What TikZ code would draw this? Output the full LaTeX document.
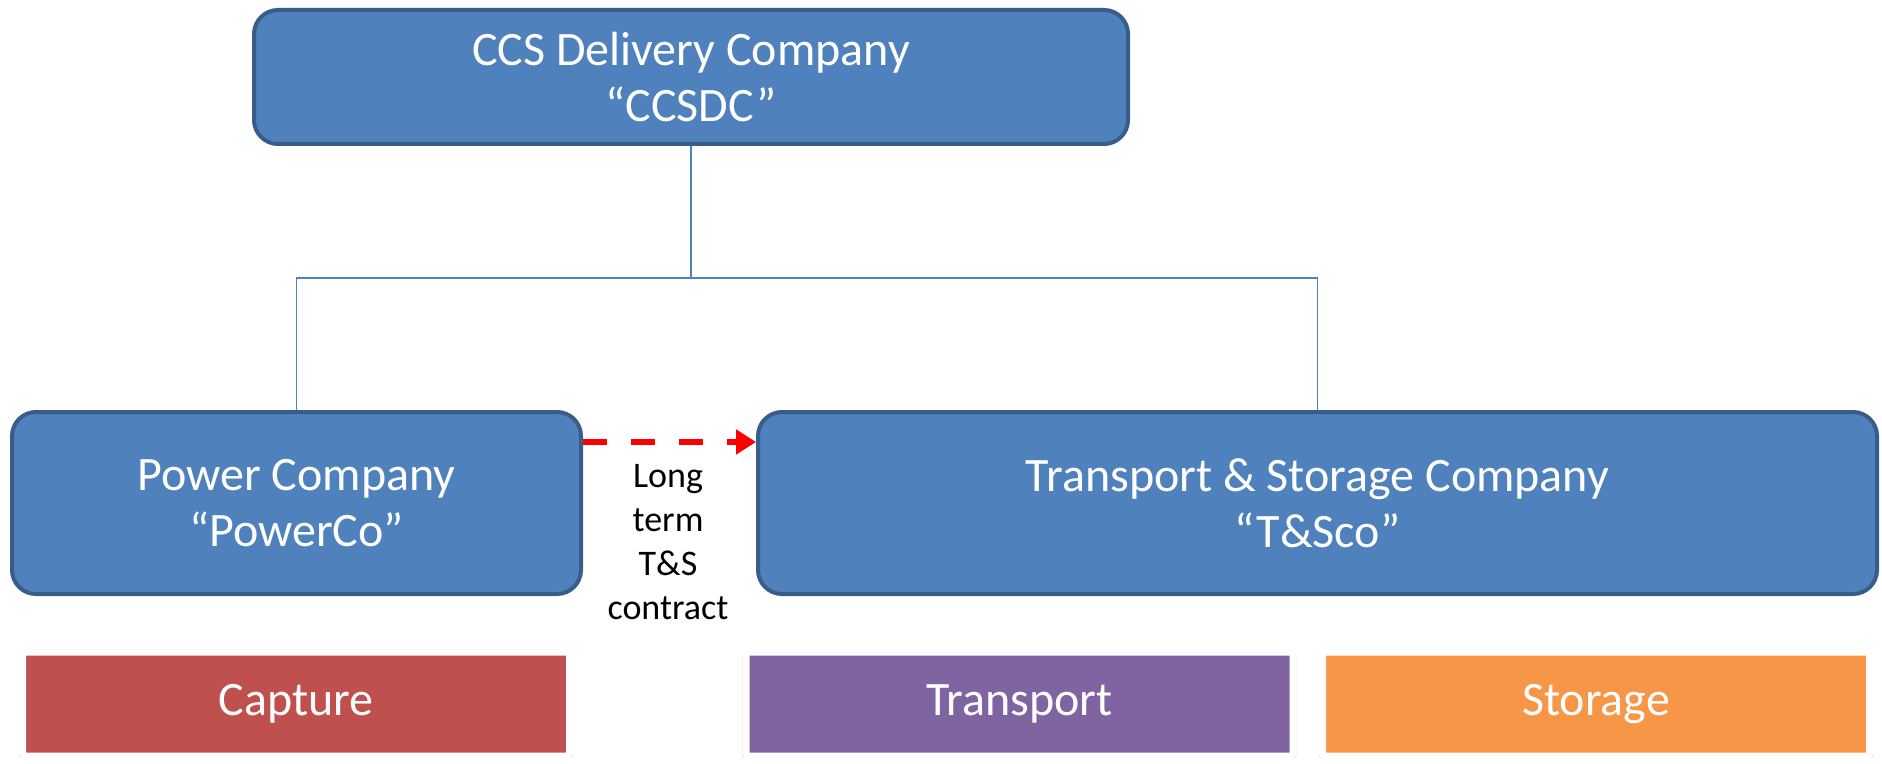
\documentclass[tikz,border=0pt]{standalone}
\usepackage{fontspec}
\setmainfont{Carlito}
\usetikzlibrary{arrows.meta,shadows}

\definecolor{boxblue}{HTML}{4F81BD}
\definecolor{boxedge}{HTML}{385D8A}
\definecolor{capred}{HTML}{C0504D}
\definecolor{transpurple}{HTML}{8064A2}
\definecolor{storeorange}{HTML}{F79646}

\begin{document}
\begin{tikzpicture}[x=0.5pt, y=-0.5pt,
	company/.style={draw=boxedge, fill=boxblue, line width=2pt, rounded corners=12pt,
		text=white, align=center, inner sep=0pt, font=\fontsize{24}{28}\selectfont},
	stage/.style={fill=#1, draw=white, line width=3.5pt, rounded corners=1.5pt,
		text=white, inner sep=0pt, minimum width=273.5pt, minimum height=52pt,
		font=\fontsize{24}{28}\selectfont,
		drop shadow={shadow xshift=0pt, shadow yshift=-0.8pt, shadow scale=1.012,
			opacity=0.4, fill=black!60}},
	link/.style={draw=boxblue, line width=0.8pt},
	contract/.style={draw=red, line width=3pt, dash pattern=on 12pt off 12pt,
		-{Triangle[length=10pt, width=12pt]}}]
	\useasboundingbox (0, 0) rectangle (1882, 764);

	% 三个公司
	\node[company, minimum width=437pt, minimum height=67pt] (ccsdc) at (691, 77)
		{CCS Delivery Company\\“CCSDC”};
	\node[company, minimum width=284.5pt, minimum height=91pt] (power) at (296.5, 503)
		{Power Company\\“PowerCo”};
	\node[company, minimum width=559.5pt, minimum height=91pt] (tsco) at (1317.5, 503)
		{Transport \& Storage Company\\“T\&Sco”};

	% 连线
	\draw[link] (ccsdc.south) -- ++(0, 132) -| (power.north);
	\draw[link] (ccsdc.south) -- ++(0, 132) -| (tsco.north);

	% 合同箭头与说明
	\draw[contract] ([yshift=-16pt]power.north east) -- ([yshift=-16pt]tsco.north west);
	\node[align=center, font=\fontsize{18}{22}\selectfont] (deal) at (668, 542)
		{Long\\term\\T\&S\\contract};

	% 三个环节
	\node[stage=capred] (capture) at (296, 704) {Capture};
	\node[stage=transpurple] (transport) at (1019.5, 704) {Transport};
	\node[stage=storeorange] (storage) at (1596, 704) {Storage};
\end{tikzpicture}
\end{document}
